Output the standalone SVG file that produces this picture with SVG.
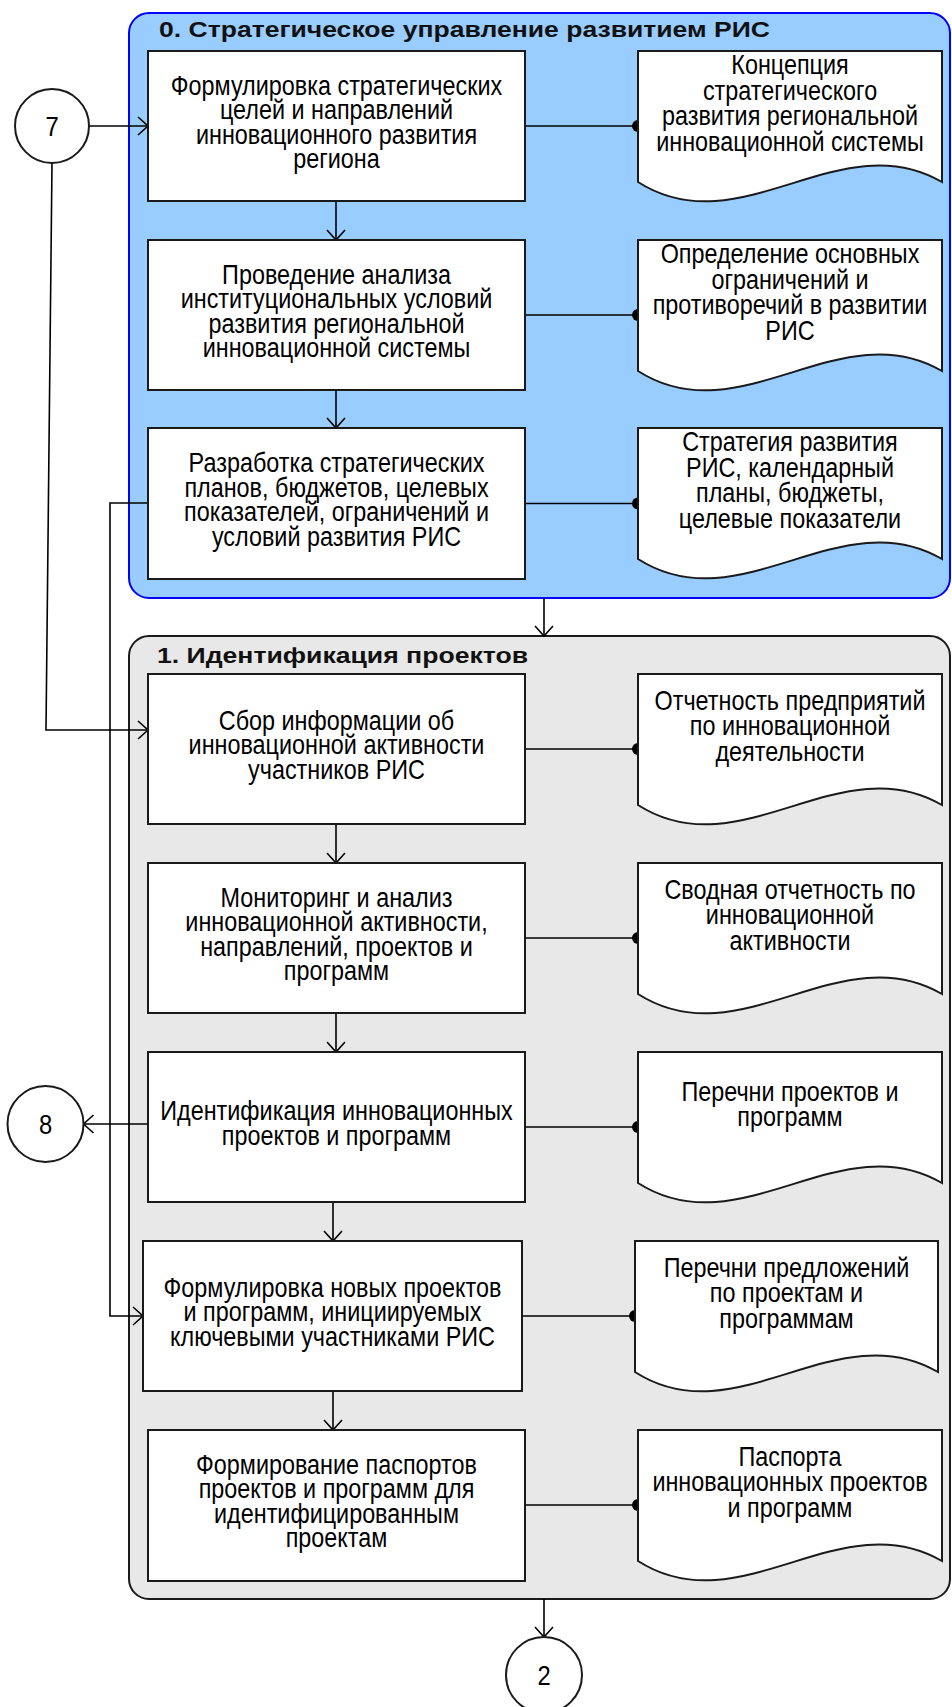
<svg xmlns="http://www.w3.org/2000/svg" width="952" height="1707" viewBox="0 0 952 1707">
<style>
.cont0{fill:#99CCFF;stroke:#0000FF;stroke-width:2}
.cont1{fill:#E8E8E8;stroke:#1a1a1a;stroke-width:2}
.box{fill:#FFFFFF;stroke:#1a1a1a;stroke-width:2}
.doc{fill:#FFFFFF;stroke:#1a1a1a;stroke-width:2}
.circ{fill:#FFFFFF;stroke:#1a1a1a;stroke-width:2}
.t{font-family:"Liberation Sans",Arial,sans-serif;font-size:27.5px;text-anchor:middle;fill:#000}
.title{font-family:"Liberation Sans",Arial,sans-serif;font-size:22px;font-weight:bold;fill:#111}
.num{font-family:"Liberation Sans",Arial,sans-serif;font-size:28px;text-anchor:middle;fill:#000}
.ln{fill:none;stroke:#000;stroke-width:1.6}
.arr{marker-end:url(#arr)}
.dot{marker-end:url(#dot)}
</style>
<defs>
<marker id="arr" markerUnits="userSpaceOnUse" markerWidth="14" markerHeight="22" refX="11" refY="10" orient="auto">
<path d="M1,1 L11,10 L1,19" fill="none" stroke="#000" stroke-width="1.6"/>
</marker>
<marker id="dot" markerUnits="userSpaceOnUse" markerWidth="16" markerHeight="16" refX="8" refY="8" orient="auto">
<circle cx="8" cy="8" r="6" fill="#000"/>
</marker>
</defs>

<g id="lane0">
<rect class="cont0" x="129" y="13" width="821" height="585" rx="20" ry="20"/>
<text class="title" x="159" y="37" textLength="611" lengthAdjust="spacingAndGlyphs">0. Стратегическое управление развитием РИС</text>
</g>
<g id="lane1">
<rect class="cont1" x="129" y="636" width="821" height="963" rx="20" ry="20"/>
<text class="title" x="157" y="663" textLength="371" lengthAdjust="spacingAndGlyphs">1. Идентификация проектов</text>
</g>

<g id="connectors">
<path class="ln arr" d="M89,126 H148"/>
<path class="ln arr" d="M52,163 L46,730 H148"/>
<path class="ln arr" d="M336,201 V240"/>
<path class="ln arr" d="M336,390 V428"/>
<path class="ln arr" d="M148,503 H110 V1316 H143"/>
<path class="ln arr" d="M544,598 V636"/>
<path class="ln arr" d="M336,824 V863"/>
<path class="ln arr" d="M336,1013 V1052"/>
<path class="ln arr" d="M333,1202 V1241"/>
<path class="ln arr" d="M333,1391 V1430"/>
<path class="ln arr" d="M148,1124 H83.5"/>
<path class="ln arr" d="M544,1599 V1637"/>
<path class="ln dot" d="M525,126 H638"/>
<path class="ln dot" d="M525,315 H638"/>
<path class="ln dot" d="M525,503.5 H638"/>
<path class="ln dot" d="M525,749 H638"/>
<path class="ln dot" d="M525,938 H638"/>
<path class="ln dot" d="M525,1127 H638"/>
<path class="ln dot" d="M522,1316 H635"/>
<path class="ln dot" d="M525,1505 H638"/>
</g>

<g id="c7">
<circle class="circ" cx="52" cy="126" r="37"/>
<text class="num" transform="matrix(0.85 0 0 1 52 136)" x="0" y="0">7</text>
</g>
<g id="c8">
<circle class="circ" cx="45.5" cy="1124" r="38"/>
<text class="num" transform="matrix(0.85 0 0 1 45.5 1134)" x="0" y="0">8</text>
</g>
<g id="c2">
<circle class="circ" cx="544" cy="1675" r="38"/>
<text class="num" transform="matrix(0.85 0 0 1 544 1685)" x="0" y="0">2</text>
</g>

<g id="box1">
<rect class="box" x="148" y="51" width="377" height="150"/>
<text class="t" transform="matrix(0.85 0 0 1 336.5 0)"><tspan x="0" y="94.75">Формулировка стратегических</tspan><tspan x="0" y="119.25">целей и направлений</tspan><tspan x="0" y="143.75">инновационного развития</tspan><tspan x="0" y="168.25">региона</tspan></text>
</g>
<g id="doc1">
<path class="doc" d="M638,51 H942 V182 C840,122.5 740,247 638,182 Z"/>
<text class="t" transform="matrix(0.85 0 0 1 790 0)"><tspan x="0" y="74.25">Концепция</tspan><tspan x="0" y="99.75">стратегического</tspan><tspan x="0" y="125.25">развития региональной</tspan><tspan x="0" y="150.75">инновационной системы</tspan></text>
</g>

<g id="box2">
<rect class="box" x="148" y="240" width="377" height="150"/>
<text class="t" transform="matrix(0.85 0 0 1 336.5 0)"><tspan x="0" y="283.75">Проведение анализа</tspan><tspan x="0" y="308.25">институциональных условий</tspan><tspan x="0" y="332.75">развития региональной</tspan><tspan x="0" y="357.25">инновационной системы</tspan></text>
</g>
<g id="doc2">
<path class="doc" d="M638,240 H942 V371 C840,311.5 740,436 638,371 Z"/>
<text class="t" transform="matrix(0.85 0 0 1 790 0)"><tspan x="0" y="263.25">Определение основных</tspan><tspan x="0" y="288.75">ограничений и</tspan><tspan x="0" y="314.25">противоречий в развитии</tspan><tspan x="0" y="339.75">РИС</tspan></text>
</g>

<g id="box3">
<rect class="box" x="148" y="428" width="377" height="151"/>
<text class="t" transform="matrix(0.85 0 0 1 336.5 0)"><tspan x="0" y="472.25">Разработка стратегических</tspan><tspan x="0" y="496.75">планов, бюджетов, целевых</tspan><tspan x="0" y="521.25">показателей, ограничений и</tspan><tspan x="0" y="545.75">условий развития РИС</tspan></text>
</g>
<g id="doc3">
<path class="doc" d="M638,428 H942 V559 C840,499.5 740,624 638,559 Z"/>
<text class="t" transform="matrix(0.85 0 0 1 790 0)"><tspan x="0" y="451.25">Стратегия развития</tspan><tspan x="0" y="476.75">РИС, календарный</tspan><tspan x="0" y="502.25">планы, бюджеты,</tspan><tspan x="0" y="527.75">целевые показатели</tspan></text>
</g>

<g id="box4">
<rect class="box" x="148" y="674" width="377" height="150"/>
<text class="t" transform="matrix(0.85 0 0 1 336.5 0)"><tspan x="0" y="730">Сбор информации об</tspan><tspan x="0" y="754.5">инновационной активности</tspan><tspan x="0" y="779">участников РИС</tspan></text>
</g>
<g id="doc4">
<path class="doc" d="M638,674 H942 V805 C840,745.5 740,870 638,805 Z"/>
<text class="t" transform="matrix(0.85 0 0 1 790 0)"><tspan x="0" y="710">Отчетность предприятий</tspan><tspan x="0" y="735.5">по инновационной</tspan><tspan x="0" y="761">деятельности</tspan></text>
</g>

<g id="box5">
<rect class="box" x="148" y="863" width="377" height="150"/>
<text class="t" transform="matrix(0.85 0 0 1 336.5 0)"><tspan x="0" y="906.75">Мониторинг и анализ</tspan><tspan x="0" y="931.25">инновационной активности,</tspan><tspan x="0" y="955.75">направлений, проектов и</tspan><tspan x="0" y="980.25">программ</tspan></text>
</g>
<g id="doc5">
<path class="doc" d="M638,863 H942 V994 C840,934.5 740,1059 638,994 Z"/>
<text class="t" transform="matrix(0.85 0 0 1 790 0)"><tspan x="0" y="899">Сводная отчетность по</tspan><tspan x="0" y="924.5">инновационной</tspan><tspan x="0" y="950">активности</tspan></text>
</g>

<g id="box6">
<rect class="box" x="148" y="1052" width="377" height="150"/>
<text class="t" transform="matrix(0.85 0 0 1 336.5 0)"><tspan x="0" y="1120.25">Идентификация инновационных</tspan><tspan x="0" y="1144.75">проектов и программ</tspan></text>
</g>
<g id="doc6">
<path class="doc" d="M638,1052 H942 V1183 C840,1123.5 740,1248 638,1183 Z"/>
<text class="t" transform="matrix(0.85 0 0 1 790 0)"><tspan x="0" y="1100.75">Перечни проектов и</tspan><tspan x="0" y="1126.25">программ</tspan></text>
</g>

<g id="box7">
<rect class="box" x="143" y="1241" width="379" height="150"/>
<text class="t" transform="matrix(0.85 0 0 1 332.5 0)"><tspan x="0" y="1297">Формулировка новых проектов</tspan><tspan x="0" y="1321.5">и программ, инициируемых</tspan><tspan x="0" y="1346">ключевыми участниками РИС</tspan></text>
</g>
<g id="doc7">
<path class="doc" d="M635,1241 H938 V1372 C836,1312.5 736,1437 635,1372 Z"/>
<text class="t" transform="matrix(0.85 0 0 1 786.5 0)"><tspan x="0" y="1277">Перечни предложений</tspan><tspan x="0" y="1302.5">по проектам и</tspan><tspan x="0" y="1328">программам</tspan></text>
</g>

<g id="box8">
<rect class="box" x="148" y="1430" width="377" height="151"/>
<text class="t" transform="matrix(0.85 0 0 1 336.5 0)"><tspan x="0" y="1473.75">Формирование паспортов</tspan><tspan x="0" y="1498.25">проектов и программ для</tspan><tspan x="0" y="1522.75">идентифицированным</tspan><tspan x="0" y="1547.25">проектам</tspan></text>
</g>
<g id="doc8">
<path class="doc" d="M638,1430 H942 V1561 C840,1501.5 740,1626 638,1561 Z"/>
<text class="t" transform="matrix(0.85 0 0 1 790 0)"><tspan x="0" y="1466">Паспорта</tspan><tspan x="0" y="1491.5">инновационных проектов</tspan><tspan x="0" y="1517">и программ</tspan></text>
</g>
</svg>
